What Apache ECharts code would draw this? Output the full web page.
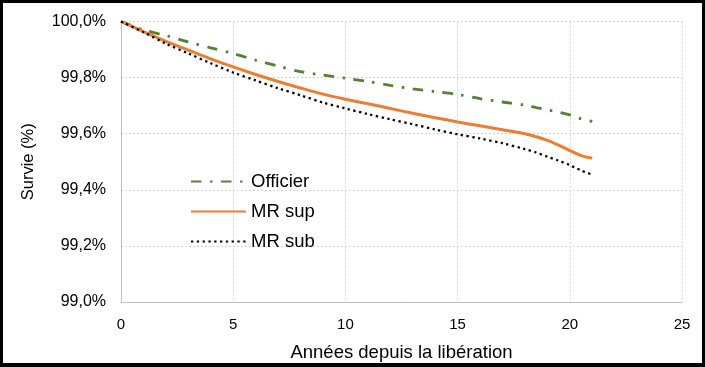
<!DOCTYPE html>
<html>
<head>
<meta charset="utf-8">
<script src="https://cdn.jsdelivr.net/npm/echarts@6/dist/echarts.min.js"></script>
<style>
html,body{margin:0;padding:0;background:#fff;}
#wrap{position:relative;width:705px;height:367px;}
#chart{width:705px;height:367px;}
#frame{position:absolute;left:0;top:0;width:705px;height:367px;box-sizing:border-box;border-style:solid;border-color:#000;border-width:3px 3px 4px 3px;pointer-events:none;}
</style>
</head>
<body>
<div id="wrap"><div id="chart"></div><div id="frame"></div></div>
<script>
const years = [0,1,2,3,4,5,6,7,8,9,10,11,12,13,14,15,16,17,18,18.5,19,19.5,20,20.5,21];
const officier = [100.0,99.970,99.950,99.927,99.906,99.886,99.862,99.841,99.821,99.809,99.798,99.786,99.772,99.760,99.750,99.740,99.725,99.713,99.702,99.693,99.685,99.677,99.667,99.653,99.644];
const mrSup = [100.0,99.964,99.929,99.898,99.867,99.838,99.811,99.786,99.763,99.741,99.723,99.707,99.690,99.673,99.657,99.642,99.628,99.614,99.600,99.589,99.576,99.559,99.540,99.522,99.513];
const mrSub = [100.0,99.962,99.921,99.886,99.851,99.818,99.790,99.762,99.737,99.711,99.690,99.670,99.651,99.634,99.615,99.598,99.583,99.566,99.545,99.533,99.518,99.504,99.488,99.469,99.454];
const seriesNames = ['Officier','MR sup','MR sub'];
const xAxisTitle = 'Années depuis la libération';
const yAxisTitle = 'Survie (%)';

const pairs = arr => years.map((x, i) => [x, arr[i]]);
const font = 'Liberation Sans, Arial, sans-serif';

const chart = echarts.init(document.getElementById('chart'), null, {renderer:'canvas'});
chart.setOption({
  animation: false,
  backgroundColor: '#fff',
  grid: {left: 121, right: 23, top: 21.5, bottom: 59.5},
  legend: {
    left: 190, top: 172, padding: 0, orient: 'vertical', itemGap: 11,
    itemWidth: 55, itemHeight: 14,
    itemStyle: {opacity: 0},
    textStyle: {fontFamily: font, fontSize: 18.5, color: '#000'},
    data: seriesNames
  },
  xAxis: {
    type: 'value', min: 0, max: 25, interval: 5,
    name: xAxisTitle, nameLocation: 'middle', nameGap: 41,
    nameTextStyle: {fontFamily: font, fontSize: 18.5, color: '#000'},
    axisLine: {lineStyle: {color: '#bfbfbf', width: 1}},
    axisTick: {show: false},
    axisLabel: {fontFamily: font, fontSize: 15, color: '#000', margin: 15},
    splitLine: {show: true, lineStyle: {color: '#d4d4d4', type: [2, 2]}}
  },
  yAxis: {
    type: 'value', min: 99.0, max: 100.0, interval: 0.2,
    name: yAxisTitle, nameLocation: 'middle', nameGap: 84,
    nameTextStyle: {fontFamily: font, fontSize: 16.5, color: '#000'},
    axisLine: {show: true, lineStyle: {color: '#bfbfbf', width: 1}},
    axisTick: {show: false},
    axisLabel: {fontFamily: font, fontSize: 16, color: '#000', margin: 15,
      formatter: v => v.toFixed(1).replace('.', ',') + '%'},
    splitLine: {show: true, lineStyle: {color: '#d4d4d4', type: [2, 2]}}
  },
  series: [
    {name: seriesNames[0], type: 'line', data: pairs(officier), symbol: 'none', smooth: 0.3,
     itemStyle: {color: '#548235'},
     lineStyle: {color: '#548235', width: 2.8, type: [10.5, 8.5, 2.5, 8.5]}},
    {name: seriesNames[1], type: 'line', data: pairs(mrSup), symbol: 'none', smooth: 0.3,
     itemStyle: {color: '#ED7D31'},
     lineStyle: {color: '#ED7D31', width: 3}},
    {name: seriesNames[2], type: 'line', data: pairs(mrSub), symbol: 'none', smooth: 0.3,
     itemStyle: {color: '#000'},
     lineStyle: {color: '#000', width: 2.3, type: [2.3, 3.5]}}
  ]
});
</script>
</body>
</html>
